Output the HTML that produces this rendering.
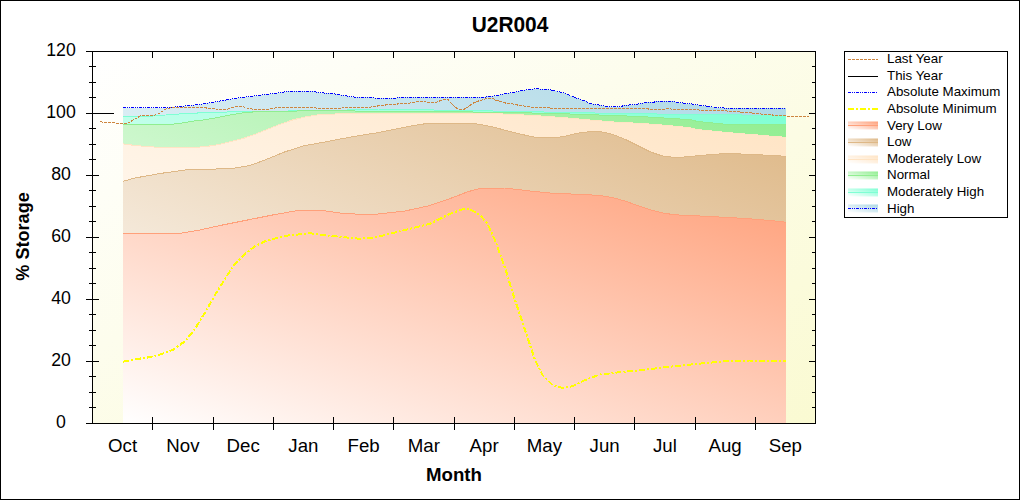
<!DOCTYPE html><html><head><meta charset="utf-8"><title>U2R004</title><style>html,body{margin:0;padding:0;background:#fff}svg{display:block}</style></head><body><svg width="1020" height="500" viewBox="0 0 1020 500" font-family="'Liberation Sans', Arial, sans-serif">
<defs><linearGradient id="bg" gradientUnits="userSpaceOnUse" x1="0" y1="0" x2="1" y2="1" gradientTransform="translate(92 51) scale(724 373)"><stop offset="0" stop-color="#FFFFFF"/><stop offset="1" stop-color="#FAFAD2"/></linearGradient><linearGradient id="ghi" gradientUnits="userSpaceOnUse" x1="0" y1="1" x2="1" y2="0" gradientTransform="translate(123 88.5) scale(663 335)"><stop offset="0" stop-color="#FFFFFF"/><stop offset="1" stop-color="#ADD8E6"/></linearGradient><linearGradient id="shi" gradientUnits="userSpaceOnUse" x1="0" y1="1" x2="1" y2="0" gradientTransform="translate(848 -4) scale(30 8)"><stop offset="0" stop-color="#FFFFFF"/><stop offset="1" stop-color="#ADD8E6"/></linearGradient><linearGradient id="gmh" gradientUnits="userSpaceOnUse" x1="0" y1="1" x2="1" y2="0" gradientTransform="translate(123 109) scale(663 314.5)"><stop offset="0" stop-color="#FFFFFF"/><stop offset="1" stop-color="#7FFFD4"/></linearGradient><linearGradient id="smh" gradientUnits="userSpaceOnUse" x1="0" y1="1" x2="1" y2="0" gradientTransform="translate(848 -4) scale(30 8)"><stop offset="0" stop-color="#FFFFFF"/><stop offset="1" stop-color="#7FFFD4"/></linearGradient><linearGradient id="gno" gradientUnits="userSpaceOnUse" x1="0" y1="1" x2="1" y2="0" gradientTransform="translate(123 110.8) scale(663 312.7)"><stop offset="0" stop-color="#FFFFFF"/><stop offset="1" stop-color="#90EE90"/></linearGradient><linearGradient id="sno" gradientUnits="userSpaceOnUse" x1="0" y1="1" x2="1" y2="0" gradientTransform="translate(848 -4) scale(30 8)"><stop offset="0" stop-color="#FFFFFF"/><stop offset="1" stop-color="#90EE90"/></linearGradient><linearGradient id="gml" gradientUnits="userSpaceOnUse" x1="0" y1="1" x2="1" y2="0" gradientTransform="translate(123 113.4) scale(663 310.1)"><stop offset="0" stop-color="#FFFFFF"/><stop offset="1" stop-color="#FFE4C4"/></linearGradient><linearGradient id="sml" gradientUnits="userSpaceOnUse" x1="0" y1="1" x2="1" y2="0" gradientTransform="translate(848 -4) scale(30 8)"><stop offset="0" stop-color="#FFFFFF"/><stop offset="1" stop-color="#FFE4C4"/></linearGradient><linearGradient id="glo" gradientUnits="userSpaceOnUse" x1="0" y1="1" x2="1" y2="0" gradientTransform="translate(123 123.3) scale(663 300.2)"><stop offset="0" stop-color="#FFFFFF"/><stop offset="1" stop-color="#DEB887"/></linearGradient><linearGradient id="slo" gradientUnits="userSpaceOnUse" x1="0" y1="1" x2="1" y2="0" gradientTransform="translate(848 -4) scale(30 8)"><stop offset="0" stop-color="#FFFFFF"/><stop offset="1" stop-color="#DEB887"/></linearGradient><linearGradient id="gvl" gradientUnits="userSpaceOnUse" x1="0" y1="1" x2="1" y2="0" gradientTransform="translate(123 188) scale(663 235.5)"><stop offset="0" stop-color="#FFFFFF"/><stop offset="1" stop-color="#FFA07A"/></linearGradient><linearGradient id="svl" gradientUnits="userSpaceOnUse" x1="0" y1="1" x2="1" y2="0" gradientTransform="translate(848 -4) scale(30 8)"><stop offset="0" stop-color="#FFFFFF"/><stop offset="1" stop-color="#FFA07A"/></linearGradient></defs>
<rect x="0" y="0" width="1020" height="500" fill="#fff"/>
<rect x="0.5" y="0.5" width="1019" height="499" fill="none" stroke="#000" stroke-width="1"/>
<rect x="92" y="51" width="724" height="373" fill="url(#bg)"/>
<g shape-rendering="crispEdges" stroke-linejoin="bevel">
<path d="M123 107.5 L170 107.5 L180 106.4 L190 105.6 L200 104.4 L205 103.6 L217.4 101.5 L229.8 99.3 L242.2 97.4 L254.6 95.9 L267 94.3 L279.4 92.7 L289.3 91.2 L314.1 91.2 L316.6 92.4 L329 93.4 L332.4 93.4 L337.4 94.4 L343.6 95.5 L349.8 96.4 L356 97.4 L373.4 97.4 L375.8 98.4 L395.7 98.4 L398.2 97.4 L485.9 97.4 L487.2 96.4 L494.6 95.9 L500.8 94.5 L507 93.4 L513.2 92.4 L519.4 91.2 L525.6 90 L531.8 89.3 L537.4 88.5 L539.2 89.3 L547.9 89.3 L552.9 90.3 L559.1 91.8 L564 93.1 L569 94.9 L571.2 96.2 L577.4 98.4 L583.6 100.5 L589.8 103.4 L596 104.5 L602.2 105.5 L605.9 106.5 L622 106.5 L623.3 105.5 L632 104.8 L639.4 103.8 L645.6 102.6 L654.3 102.1 L656.1 101.1 L674.1 101.1 L676.6 102.4 L682.8 102.7 L684 103.6 L691.2 103.6 L693.7 104.5 L698.7 104.5 L699.9 105.5 L706 105.5 L707.3 106.5 L713.5 106.5 L714.8 107.6 L723.4 107.6 L724.7 108.3 L786 108.3 L786 423.5 L123 423.5 Z" fill="url(#ghi)"/>
<path d="M123 117 L153.2 116 L171.8 114.5 L190.4 113.3 L205 112.7 L247 111.4 L329 110.6 L378 109 L432 109.9 L445 110.5 L493 110.9 L495 111.9 L544 111.9 L545.4 112.8 L594.8 112.8 L596 113.8 L656.8 113.8 L658 114.6 L740.8 114.6 L742 115.3 L786 115.3 L786 423.5 L123 423.5 Z" fill="url(#gmh)"/>
<path d="M123 117 L153.2 116 L171.8 114.5 L190.4 113.3 L205 112.7 L247 111.4 L329 110.6 L378 109 L432 109.9 L445 110.5 L493 110.9 L495 111.9 L544 111.9 L545.4 112.8 L594.8 112.8 L596 113.8 L656.8 113.8 L658 114.6 L740.8 114.6 L742 115.3 L786 115.3" fill="none" stroke="#7FFFD4" stroke-width="1"/>
<path d="M123 124.9 L169.3 124.6 L184.2 122.7 L196.6 120.6 L205 119.8 L217.4 117.5 L229.8 115 L242.2 113 L254.6 111.8 L267 111.2 L329 110.8 L445 111.7 L500 112.3 L545 113.3 L565 113.8 L577.4 114.3 L608.4 115.3 L639.4 116.5 L664.2 118 L690 119.6 L697.4 121.5 L716 123.3 L729.6 124.6 L786 124.6 L786 423.5 L123 423.5 Z" fill="url(#gno)"/>
<path d="M123 124.9 L169.3 124.6 L184.2 122.7 L196.6 120.6 L205 119.8 L217.4 117.5 L229.8 115 L242.2 113 L254.6 111.8 L267 111.2 L329 110.8 L445 111.7 L500 112.3 L545 113.3 L565 113.8 L577.4 114.3 L608.4 115.3 L639.4 116.5 L664.2 118 L690 119.6 L697.4 121.5 L716 123.3 L729.6 124.6 L786 124.6" fill="none" stroke="#90EE90" stroke-width="1"/>
<path d="M123 143.8 L135 145.5 L160 147.5 L185 148 L205 146.7 L217.4 144.8 L229.8 141.9 L242.2 138.8 L254.6 134.5 L267 129.5 L279.4 124.6 L291.8 120.2 L304.2 117.1 L316.6 115 L329 114.4 L334 114.4 L336 113.4 L502 113.4 L503.3 114.4 L523.1 114.4 L524.4 115.3 L540.5 115.3 L541.7 116.5 L554.1 116.5 L555.4 117.5 L565 117.7 L589.8 120 L614.6 122.1 L639.4 123.3 L664.2 125.2 L690 127.7 L697.4 129.5 L716 131.4 L734.6 133.2 L759.4 135.1 L771.8 136.3 L786 137.3 L786 423.5 L123 423.5 Z" fill="url(#gml)"/>
<path d="M123 143.8 L135 145.5 L160 147.5 L185 148 L205 146.7 L217.4 144.8 L229.8 141.9 L242.2 138.8 L254.6 134.5 L267 129.5 L279.4 124.6 L291.8 120.2 L304.2 117.1 L316.6 115 L329 114.4 L334 114.4 L336 113.4 L502 113.4 L503.3 114.4 L523.1 114.4 L524.4 115.3 L540.5 115.3 L541.7 116.5 L554.1 116.5 L555.4 117.5 L565 117.7 L589.8 120 L614.6 122.1 L639.4 123.3 L664.2 125.2 L690 127.7 L697.4 129.5 L716 131.4 L734.6 133.2 L759.4 135.1 L771.8 136.3 L786 137.3" fill="none" stroke="#FFE4C4" stroke-width="1"/>
<path d="M123 181.3 L135 178 L160 173.5 L185 170 L210 169.3 L235 168 L250 165.5 L265 160 L285 151.8 L305 145.5 L316.6 143.5 L329 141.3 L337.4 139.4 L349.8 137.3 L362.2 135.1 L374.6 133.2 L387 130.8 L399.4 128.3 L411.8 125.8 L424.2 123.9 L430.4 123.3 L472.3 123.3 L482.2 124.9 L494.6 127.4 L507 130.8 L519.4 133.9 L531.8 136.6 L538 137.6 L556.6 137.6 L565 136.3 L577.4 133.2 L589.8 131.6 L602.2 132 L612.5 134.3 L625 139.3 L637.5 145.5 L650 151.8 L662.5 156 L675 157.5 L687.5 156.8 L700 155.5 L725 153.5 L750 154.3 L786 156.3 L786 423.5 L123 423.5 Z" fill="url(#glo)"/>
<path d="M123 181.3 L135 178 L160 173.5 L185 170 L210 169.3 L235 168 L250 165.5 L265 160 L285 151.8 L305 145.5 L316.6 143.5 L329 141.3 L337.4 139.4 L349.8 137.3 L362.2 135.1 L374.6 133.2 L387 130.8 L399.4 128.3 L411.8 125.8 L424.2 123.9 L430.4 123.3 L472.3 123.3 L482.2 124.9 L494.6 127.4 L507 130.8 L519.4 133.9 L531.8 136.6 L538 137.6 L556.6 137.6 L565 136.3 L577.4 133.2 L589.8 131.6 L602.2 132 L612.5 134.3 L625 139.3 L637.5 145.5 L650 151.8 L662.5 156 L675 157.5 L687.5 156.8 L700 155.5 L725 153.5 L750 154.3 L786 156.3" fill="none" stroke="#DEB887" stroke-width="1"/>
<path d="M123 233.8 L177.5 233.8 L197.5 230.5 L222.5 225 L247.5 220 L272.5 215 L297.5 210.5 L322.5 210.5 L340 213 L360 214.3 L375 214.3 L405 211 L430 205.5 L455 196.8 L467.5 191.8 L480 188.5 L505 188 L530 191 L555 193.5 L580 194.3 L600 195.5 L612.5 197.5 L625 201 L637.5 205.5 L650 209.8 L662.5 213 L675 214.8 L700 216 L725 217.3 L750 218.8 L775 221 L786 222.3 L786 423.5 L123 423.5 Z" fill="url(#gvl)"/>
<path d="M123 233.8 L177.5 233.8 L197.5 230.5 L222.5 225 L247.5 220 L272.5 215 L297.5 210.5 L322.5 210.5 L340 213 L360 214.3 L375 214.3 L405 211 L430 205.5 L455 196.8 L467.5 191.8 L480 188.5 L505 188 L530 191 L555 193.5 L580 194.3 L600 195.5 L612.5 197.5 L625 201 L637.5 205.5 L650 209.8 L662.5 213 L675 214.8 L700 216 L725 217.3 L750 218.8 L775 221 L786 222.3" fill="none" stroke="#FFA07A" stroke-width="1"/>
<path d="M123 107.5 L170 107.5 L180 106.4 L190 105.6 L200 104.4 L205 103.6 L217.4 101.5 L229.8 99.3 L242.2 97.4 L254.6 95.9 L267 94.3 L279.4 92.7 L289.3 91.2 L314.1 91.2 L316.6 92.4 L329 93.4 L332.4 93.4 L337.4 94.4 L343.6 95.5 L349.8 96.4 L356 97.4 L373.4 97.4 L375.8 98.4 L395.7 98.4 L398.2 97.4 L485.9 97.4 L487.2 96.4 L494.6 95.9 L500.8 94.5 L507 93.4 L513.2 92.4 L519.4 91.2 L525.6 90 L531.8 89.3 L537.4 88.5 L539.2 89.3 L547.9 89.3 L552.9 90.3 L559.1 91.8 L564 93.1 L569 94.9 L571.2 96.2 L577.4 98.4 L583.6 100.5 L589.8 103.4 L596 104.5 L602.2 105.5 L605.9 106.5 L622 106.5 L623.3 105.5 L632 104.8 L639.4 103.8 L645.6 102.6 L654.3 102.1 L656.1 101.1 L674.1 101.1 L676.6 102.4 L682.8 102.7 L684 103.6 L691.2 103.6 L693.7 104.5 L698.7 104.5 L699.9 105.5 L706 105.5 L707.3 106.5 L713.5 106.5 L714.8 107.6 L723.4 107.6 L724.7 108.3 L786 108.3" fill="none" stroke="#0000FF" stroke-width="1" stroke-dasharray="3 1 1 1 1 1"/>
<path d="M123 361.8 L135 359.3 L147.5 357.5 L160 354.5 L172.5 350 L185 341.3 L195 328.8 L205 312.5 L215 295 L225 278.8 L235 263.8 L245 253.8 L255 246.3 L265 241.3 L285 235.8 L310 233.3 L335 236.3 L360 238.8 L375 237.5 L405 230 L430 223.8 L450 213.8 L462.5 209.3 L470 209.3 L480 215 L487.5 223.8 L495 240 L501.3 257.5 L505.8 270 L512.5 292.5 L520 315 L527.5 337.5 L535 360 L542.5 375 L552.5 385 L562.5 388 L572.5 386.3 L585 380 L600 374.5 L617.5 372.5 L642.5 370 L667.5 367 L692.5 364.3 L717.5 362 L730 360.8 L750 360.5 L786 360.5" fill="none" stroke="#FFFF00" stroke-width="2" stroke-dasharray="6 2 2 2"/>
<path d="M100.1 121.6 L102.4 122.2 L113.5 122.2 L116 123.4 L127.2 123.4 L137 117.9 L140.8 115.6 L154.4 115.4 L159.4 113.3 L165.6 109.2 L171.8 107.6 L205 107.6 L207.5 108.3 L215 108.3 L216.2 109.4 L227.3 109.4 L229.8 108.3 L233.5 107.6 L235.4 106.5 L242.8 106.5 L244.7 107.3 L248.4 108.3 L253.4 109.4 L268.2 109.4 L270.1 108.3 L274.5 108.3 L275.7 107.6 L315.4 107.6 L316.6 108.3 L341 108.3 L343 107.6 L369.6 107.6 L372 106.5 L377 106.5 L378.3 105.5 L384.5 105.5 L386.4 104.5 L397 104.5 L398.2 103.4 L409.3 103.4 L410.6 102.4 L414.3 102.4 L415.5 101.4 L425.4 101.4 L426.7 102.4 L436.6 102.4 L438.5 101.4 L441 100.5 L444 99.5 L448.1 99.5 L452.4 104.5 L457.4 108.6 L459.9 109.4 L463.6 109.4 L467.3 107.6 L472.3 103.6 L477.2 101.4 L482.2 99.9 L487.2 98.4 L492.7 98.4 L495.8 100.1 L500.8 101.7 L507 103.4 L514.4 104.2 L519.4 105.5 L529.3 106.5 L531.8 107.6 L549.2 107.6 L550.4 108.3 L646.8 108.3 L649.3 109.4 L665.4 109.4 L666.7 108.3 L670.4 108.3 L671.6 109.4 L697.4 109.4 L699.9 110.4 L725.9 110.4 L727.2 111.4 L739.6 111.4 L740.8 112.3 L750.7 112.3 L752 113.5 L760.6 113.5 L761.9 114.5 L771.8 114.5 L773 115.4 L785.4 115.4 L786.7 116.4 L809 116.4" fill="none" stroke="#CD853F" stroke-width="1" stroke-dasharray="3 1"/>
<rect x="98" y="113" width="16" height="1" fill="#000"/>
<rect x="92" y="51" width="1" height="373" fill="#000"/>
<rect x="815" y="51" width="1" height="373" fill="#000"/>
<rect x="86" y="51" width="730" height="1" fill="#000"/>
<rect x="86" y="423" width="730" height="1" fill="#000"/>
<rect x="89" y="66" width="7" height="1" fill="#000"/>
<rect x="812" y="66" width="3" height="1" fill="#000"/>
<rect x="89" y="82" width="7" height="1" fill="#000"/>
<rect x="812" y="82" width="3" height="1" fill="#000"/>
<rect x="89" y="97" width="7" height="1" fill="#000"/>
<rect x="812" y="97" width="3" height="1" fill="#000"/>
<rect x="86" y="113" width="13" height="1" fill="#000"/>
<rect x="809" y="113" width="6" height="1" fill="#000"/>
<rect x="89" y="128" width="7" height="1" fill="#000"/>
<rect x="812" y="128" width="3" height="1" fill="#000"/>
<rect x="89" y="144" width="7" height="1" fill="#000"/>
<rect x="812" y="144" width="3" height="1" fill="#000"/>
<rect x="89" y="159" width="7" height="1" fill="#000"/>
<rect x="812" y="159" width="3" height="1" fill="#000"/>
<rect x="86" y="175" width="13" height="1" fill="#000"/>
<rect x="809" y="175" width="6" height="1" fill="#000"/>
<rect x="89" y="190" width="7" height="1" fill="#000"/>
<rect x="812" y="190" width="3" height="1" fill="#000"/>
<rect x="89" y="206" width="7" height="1" fill="#000"/>
<rect x="812" y="206" width="3" height="1" fill="#000"/>
<rect x="89" y="221" width="7" height="1" fill="#000"/>
<rect x="812" y="221" width="3" height="1" fill="#000"/>
<rect x="86" y="237" width="13" height="1" fill="#000"/>
<rect x="809" y="237" width="6" height="1" fill="#000"/>
<rect x="89" y="252" width="7" height="1" fill="#000"/>
<rect x="812" y="252" width="3" height="1" fill="#000"/>
<rect x="89" y="268" width="7" height="1" fill="#000"/>
<rect x="812" y="268" width="3" height="1" fill="#000"/>
<rect x="89" y="283" width="7" height="1" fill="#000"/>
<rect x="812" y="283" width="3" height="1" fill="#000"/>
<rect x="86" y="299" width="13" height="1" fill="#000"/>
<rect x="809" y="299" width="6" height="1" fill="#000"/>
<rect x="89" y="314" width="7" height="1" fill="#000"/>
<rect x="812" y="314" width="3" height="1" fill="#000"/>
<rect x="89" y="330" width="7" height="1" fill="#000"/>
<rect x="812" y="330" width="3" height="1" fill="#000"/>
<rect x="89" y="345" width="7" height="1" fill="#000"/>
<rect x="812" y="345" width="3" height="1" fill="#000"/>
<rect x="86" y="361" width="13" height="1" fill="#000"/>
<rect x="809" y="361" width="6" height="1" fill="#000"/>
<rect x="89" y="376" width="7" height="1" fill="#000"/>
<rect x="812" y="376" width="3" height="1" fill="#000"/>
<rect x="89" y="392" width="7" height="1" fill="#000"/>
<rect x="812" y="392" width="3" height="1" fill="#000"/>
<rect x="89" y="407" width="7" height="1" fill="#000"/>
<rect x="812" y="407" width="3" height="1" fill="#000"/>
<rect x="152" y="417" width="1" height="13" fill="#000"/>
<rect x="152" y="51" width="1" height="7" fill="#000"/>
<rect x="213" y="417" width="1" height="13" fill="#000"/>
<rect x="213" y="51" width="1" height="7" fill="#000"/>
<rect x="273" y="417" width="1" height="13" fill="#000"/>
<rect x="273" y="51" width="1" height="7" fill="#000"/>
<rect x="333" y="417" width="1" height="13" fill="#000"/>
<rect x="333" y="51" width="1" height="7" fill="#000"/>
<rect x="393" y="417" width="1" height="13" fill="#000"/>
<rect x="393" y="51" width="1" height="7" fill="#000"/>
<rect x="454" y="417" width="1" height="13" fill="#000"/>
<rect x="454" y="51" width="1" height="7" fill="#000"/>
<rect x="514" y="417" width="1" height="13" fill="#000"/>
<rect x="514" y="51" width="1" height="7" fill="#000"/>
<rect x="574" y="417" width="1" height="13" fill="#000"/>
<rect x="574" y="51" width="1" height="7" fill="#000"/>
<rect x="634" y="417" width="1" height="13" fill="#000"/>
<rect x="634" y="51" width="1" height="7" fill="#000"/>
<rect x="695" y="417" width="1" height="13" fill="#000"/>
<rect x="695" y="51" width="1" height="7" fill="#000"/>
<rect x="755" y="417" width="1" height="13" fill="#000"/>
<rect x="755" y="51" width="1" height="7" fill="#000"/>
</g>
<text transform="translate(510 32) scale(0.98 1)" font-size="21.33" font-weight="bold" text-anchor="middle">U2R004</text>
<text transform="translate(61 427.7) scale(0.95 1)" font-size="18.67" text-anchor="middle">0</text>
<text transform="translate(61 365.7) scale(0.95 1)" font-size="18.67" text-anchor="middle">20</text>
<text transform="translate(61 303.7) scale(0.95 1)" font-size="18.67" text-anchor="middle">40</text>
<text transform="translate(61 241.7) scale(0.95 1)" font-size="18.67" text-anchor="middle">60</text>
<text transform="translate(61 179.7) scale(0.95 1)" font-size="18.67" text-anchor="middle">80</text>
<text transform="translate(61 117.7) scale(0.95 1)" font-size="18.67" text-anchor="middle">100</text>
<text transform="translate(61 55.7) scale(0.95 1)" font-size="18.67" text-anchor="middle">120</text>
<text x="122.625" y="452" font-size="18.67" text-anchor="middle">Oct</text>
<text x="182.875" y="452" font-size="18.67" text-anchor="middle">Nov</text>
<text x="243.125" y="452" font-size="18.67" text-anchor="middle">Dec</text>
<text x="303.375" y="452" font-size="18.67" text-anchor="middle">Jan</text>
<text x="363.625" y="452" font-size="18.67" text-anchor="middle">Feb</text>
<text x="423.875" y="452" font-size="18.67" text-anchor="middle">Mar</text>
<text x="484.125" y="452" font-size="18.67" text-anchor="middle">Apr</text>
<text x="544.375" y="452" font-size="18.67" text-anchor="middle">May</text>
<text x="604.625" y="452" font-size="18.67" text-anchor="middle">Jun</text>
<text x="664.875" y="452" font-size="18.67" text-anchor="middle">Jul</text>
<text x="725.125" y="452" font-size="18.67" text-anchor="middle">Aug</text>
<text x="785.375" y="452" font-size="18.67" text-anchor="middle">Sep</text>
<text x="454" y="481" font-size="18.67" font-weight="bold" text-anchor="middle">Month</text>
<text transform="translate(29 236.5) rotate(-90) scale(0.97 1)" font-size="18.67" font-weight="bold" text-anchor="middle">% Storage</text>
<rect x="844.5" y="51.5" width="163" height="166" fill="#fff" stroke="#000" stroke-width="1"/>
<path d="M848 59.5 H878" stroke="#CD853F" stroke-width="1" stroke-dasharray="3 1" shape-rendering="crispEdges"/>
<text x="887" y="63.2" font-size="13.33">Last Year</text>
<path d="M848 76.5 H878" stroke="#000" stroke-width="1" shape-rendering="crispEdges"/>
<text x="887" y="79.8" font-size="13.33">This Year</text>
<path d="M848 92.5 H878" stroke="#0000FF" stroke-width="1" stroke-dasharray="3 1 1 1 1 1" shape-rendering="crispEdges"/>
<text x="887" y="96.4" font-size="13.33">Absolute Maximum</text>
<path d="M848 109 H878" stroke="#FFFF00" stroke-width="2" stroke-dasharray="6 2 2 2" shape-rendering="crispEdges"/>
<text x="887" y="113" font-size="13.33">Absolute Minimum</text>
<g transform="translate(0 125.5)"><rect x="848" y="-4" width="30" height="8" fill="url(#svl)"/></g>
<path d="M848 125.5 H878" stroke="#FFA07A" stroke-width="1" shape-rendering="crispEdges"/>
<text x="887" y="129.6" font-size="13.33">Very Low</text>
<g transform="translate(0 142.5)"><rect x="848" y="-4" width="30" height="8" fill="url(#slo)"/></g>
<path d="M848 142.5 H878" stroke="#DEB887" stroke-width="1" shape-rendering="crispEdges"/>
<text x="887" y="146.2" font-size="13.33">Low</text>
<g transform="translate(0 159.5)"><rect x="848" y="-4" width="30" height="8" fill="url(#sml)"/></g>
<path d="M848 159.5 H878" stroke="#FFE4C4" stroke-width="1" shape-rendering="crispEdges"/>
<text x="887" y="162.8" font-size="13.33">Moderately Low</text>
<g transform="translate(0 175.5)"><rect x="848" y="-4" width="30" height="8" fill="url(#sno)"/></g>
<path d="M848 175.5 H878" stroke="#90EE90" stroke-width="1" shape-rendering="crispEdges"/>
<text x="887" y="179.4" font-size="13.33">Normal</text>
<g transform="translate(0 192.5)"><rect x="848" y="-4" width="30" height="8" fill="url(#smh)"/></g>
<path d="M848 192.5 H878" stroke="#7FFFD4" stroke-width="1" shape-rendering="crispEdges"/>
<text x="887" y="196" font-size="13.33">Moderately High</text>
<g transform="translate(0 208.5)"><rect x="848" y="-4" width="30" height="8" fill="url(#shi)"/></g>
<path d="M848 208.5 H878" stroke="#0000FF" stroke-width="1" stroke-dasharray="3 1 1 1 1 1" shape-rendering="crispEdges"/>
<text x="887" y="212.6" font-size="13.33">High</text>
</svg></body></html>
